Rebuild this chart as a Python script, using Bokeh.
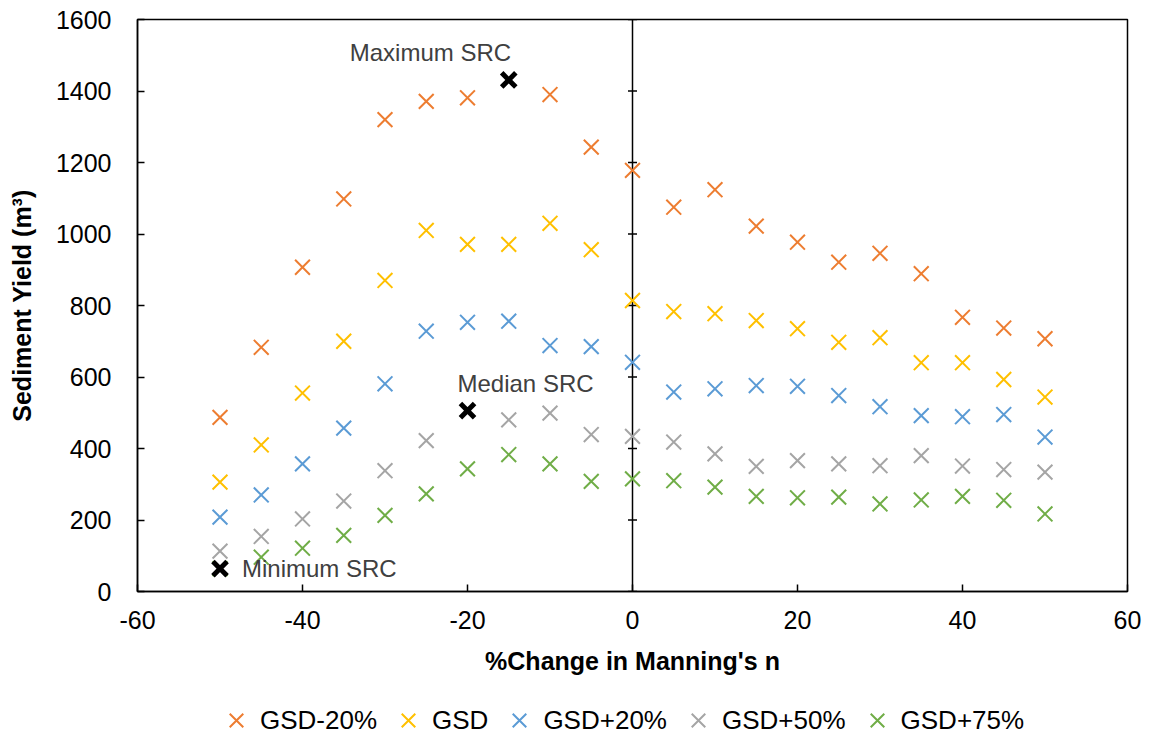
from bokeh.plotting import figure
from bokeh.layouts import column
from bokeh.models import Span, Legend, LegendItem, Label, FixedTicker, PrintfTickFormatter
from bokeh.embed import file_html
from bokeh.resources import INLINE

# ---------------- data ----------------
pct_change = [-50, -45, -40, -35, -30, -25, -20, -15, -10, -5, 0,
              5, 10, 15, 20, 25, 30, 35, 40, 45, 50]

gsd_minus20 = [487, 683, 907, 1098, 1320, 1371, 1381, None, 1390, 1243, 1178,
               1075, 1124, 1022, 977, 921, 946, 889, 767, 737, 707]
gsd = [306, 410, 555, 700, 870, 1010, 971, 971, 1030, 956, 814,
       783, 777, 758, 735, 697, 710, 640, 640, 593, 544]
gsd_plus20 = [208, 270, 357, 457, 581, 728, 753, 756, 688, 685, 641,
              558, 567, 576, 574, 548, 517, 492, 489, 495, 432]
gsd_plus50 = [113, 154, 203, 253, 338, 422, None, 480, 499, 439, 434,
              418, 385, 350, 366, 357, 352, 380, 351, 341, 334]
gsd_plus75 = [64, 96, 121, 157, 213, 273, 343, 383, 357, 308, 315,
              310, 292, 266, 262, 264, 245, 256, 266, 255, 217]

series_names = ["GSD-20%", "GSD", "GSD+20%", "GSD+50%", "GSD+75%"]
series_values = [gsd_minus20, gsd, gsd_plus20, gsd_plus50, gsd_plus75]
series_colors = ["#ED7D31", "#FFC000", "#5B9BD5", "#A5A5A5", "#70AD47"]

src_labels = ["Maximum SRC", "Median SRC", "Minimum SRC"]
src_x = [-15, -20, -50]
src_y = [1431, 506, 64]

x_ticks = [-60, -40, -20, 0, 20, 40, 60]
y_ticks = [0, 200, 400, 600, 800, 1000, 1200, 1400, 1600]

FONT = "Liberation Sans"

p = figure(width=1154, height=690, x_range=(-60, 60), y_range=(0, 1600),
           output_backend="svg", toolbar_location=None,
           min_border_left=137, min_border_right=27, min_border_top=19,
           min_border_bottom=99)

p.xgrid.visible = False
p.ygrid.visible = False
p.outline_line_color = "black"
p.outline_line_width = 1.5
p.background_fill_color = "white"
p.border_fill_color = "white"

for ax in (p.xaxis[0], p.yaxis[0]):
    ax.axis_line_color = "black"
    ax.axis_line_width = 1.5
    ax.major_tick_in = 7
    ax.major_tick_out = 0
    ax.major_tick_line_width = 1.5
    ax.minor_tick_line_color = None
    ax.major_label_text_font = FONT
    ax.major_label_text_font_size = "25px"
    ax.major_label_text_color = "black"
    ax.axis_label_text_font = FONT
    ax.axis_label_text_font_size = "25px"
    ax.axis_label_text_font_style = "bold"
    ax.axis_label_text_color = "black"
    ax.formatter = PrintfTickFormatter(format="%d")

p.xaxis[0].ticker = FixedTicker(ticks=x_ticks)
p.yaxis[0].ticker = FixedTicker(ticks=y_ticks)
p.xaxis[0].axis_label = "%Change in Manning's n"
p.yaxis[0].axis_label = "Sediment Yield (m³)"
p.xaxis[0].major_label_standoff = 19
p.xaxis[0].axis_label_standoff = 15
p.yaxis[0].major_label_standoff = 26
p.yaxis[0].axis_label_standoff = 17

# vertical axis line at x = 0 with crossing ticks
p.add_layout(Span(location=0, dimension="height", line_color="black",
                  line_width=1.5, level="underlay"))
p.scatter(x=[0] * len(y_ticks), y=y_ticks, marker="dash", size=9,
          line_color="black", line_width=1.5)

for name, vals, col in zip(series_names, series_values, series_colors):
    xs = [x for x, v in zip(pct_change, vals) if v is not None]
    ys = [v for v in vals if v is not None]
    p.scatter(x=xs, y=ys, marker="x", size=21, line_color=col, line_width=2)

p.scatter(x=src_x, y=src_y, marker="x", size=20, line_color="black",
          line_width=5)

offsets = [(-159, 27, "left", "middle"), (-10, 27, "left", "middle"),
           (22, 0, "left", "middle")]
for lab, x, y, (dx, dy, al, bl) in zip(src_labels, src_x, src_y, offsets):
    p.add_layout(Label(x=x, y=y, text=lab, x_offset=dx, y_offset=dy,
                       text_align=al, text_baseline=bl,
                       text_font=FONT, text_font_size="24px",
                       text_color="#404040"))

# ---------------- legend strip below the chart ----------------
pl = figure(width=1154, height=47, x_range=(0, 1), y_range=(0, 1),
            output_backend="svg", toolbar_location=None,
            x_axis_location=None, y_axis_location=None,
            min_border_left=0, min_border_right=0, min_border_top=0,
            min_border_bottom=0)
pl.xgrid.visible = False
pl.ygrid.visible = False
pl.outline_line_color = None
pl.background_fill_color = "white"
pl.border_fill_color = "white"

items = []
for name, col in zip(series_names, series_colors):
    # one hidden point outside the strip's range, only used for the legend key
    r = pl.scatter(x=[5], y=[5], marker="x", size=21, line_color=col,
                   line_width=2)
    items.append(LegendItem(label=name, renderers=[r]))

legend = Legend(items=items, orientation="horizontal", location=(75, -7),
                glyph_width=48, glyph_height=48, label_standoff=0,
                spacing=7, padding=0, margin=0,
                label_text_font=FONT, label_text_font_size="26px",
                label_text_color="black",
                border_line_color=None, background_fill_alpha=0)
pl.add_layout(legend, "center")

layout = column(p, pl, spacing=0)
open("out.html", "w").write(file_html(layout, INLINE))
